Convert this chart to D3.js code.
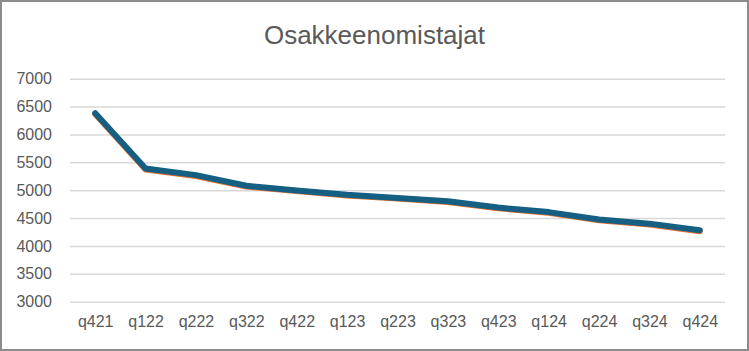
<!DOCTYPE html>
<html>
<head>
<meta charset="utf-8">
<script src="https://cdn.jsdelivr.net/npm/d3@7.9.0/dist/d3.min.js"></script>
<style>
  html, body { margin: 0; padding: 0; background: #fff; }
  svg { display: block; }
  text { font-family: "Liberation Sans", Arial, sans-serif; fill: #595959; }
</style>
</head>
<body>
<div id="chart"></div>
<script>
// Chart data
const title = 'Osakkeenomistajat';
const quarters = ['q421', 'q122', 'q222', 'q322', 'q422', 'q123', 'q223', 'q323', 'q423', 'q124', 'q224', 'q324', 'q424'];
// two series drawn almost on top of each other (orange below, blue on top)
const seriesOrange = [6365, 5370, 5255, 5065, 4985, 4905, 4850, 4790, 4675, 4595, 4460, 4385, 4265];
const seriesBlue = [6380, 5388, 5270, 5080, 4995, 4918, 4862, 4800, 4688, 4607, 4475, 4400, 4280];
const yTicks = [3000, 3500, 4000, 4500, 5000, 5500, 6000, 6500, 7000];

const width = 749;
const height = 351;
const margin = { top: 78.7, right: 24, bottom: 49, left: 70 };

const svg = d3.select('#chart')
    .append('svg')
    .attr('width', width)
    .attr('height', height);

// Outer border
svg.append('rect')
    .attr('x', 1)
    .attr('y', 1)
    .attr('width', width - 2)
    .attr('height', height - 2)
    .attr('fill', '#fff')
    .attr('stroke', '#8c8c8c')
    .attr('stroke-width', 2);

// Scales
const x = d3.scalePoint()
    .domain(quarters)
    .range([margin.left, width - margin.right])
    .padding(0.5);

const y = d3.scaleLinear()
    .domain([3000, 7000])
    .range([height - margin.bottom - 0.3, margin.top]);

// Gridlines
svg.append('g')
    .attr('class', 'gridlines')
    .attr('transform', `translate(${margin.left}, 0)`)
    .call(d3.axisLeft(y).tickValues(yTicks).tickFormat('').tickSize(-(width - margin.left - margin.right)))
    .call((g) => g.select('.domain').remove())
    .call((g) => g.selectAll('line').attr('stroke', '#d9d9d9').attr('stroke-width', 1.5));

// Y axis labels
svg.append('g')
    .attr('transform', `translate(${margin.left}, 0)`)
    .call(d3.axisLeft(y).tickValues(yTicks).tickFormat(d3.format('d')).tickSize(0).tickPadding(18))
    .call((g) => g.select('.domain').remove())
    .call((g) => g.selectAll('text')
        .style('font-size', '16px')
        .style('fill', '#595959'));

// X axis labels
svg.append('g')
    .attr('transform', `translate(0, ${height - margin.bottom})`)
    .call(d3.axisBottom(x).tickSize(0).tickPadding(14))
    .call((g) => g.select('.domain').remove())
    .call((g) => g.selectAll('text')
        .style('font-size', '16px')
        .style('fill', '#595959'));

// Title
svg.append('text')
    .attr('x', 374.5)
    .attr('y', 44)
    .attr('text-anchor', 'middle')
    .style('font-size', '26px')
    .text(title);

// Lines
const line = d3.line()
    .x((d, i) => x(quarters[i]))
    .y((d) => y(d));

svg.append('path')
    .datum(seriesOrange)
    .attr('d', line)
    .attr('fill', 'none')
    .attr('stroke', '#e97132')
    .attr('stroke-width', 6)
    .attr('stroke-linejoin', 'round')
    .attr('stroke-linecap', 'round');

svg.append('path')
    .datum(seriesBlue)
    .attr('d', line)
    .attr('fill', 'none')
    .attr('stroke', '#156082')
    .attr('stroke-width', 6)
    .attr('stroke-linejoin', 'round')
    .attr('stroke-linecap', 'round');
</script>
</body>
</html>
